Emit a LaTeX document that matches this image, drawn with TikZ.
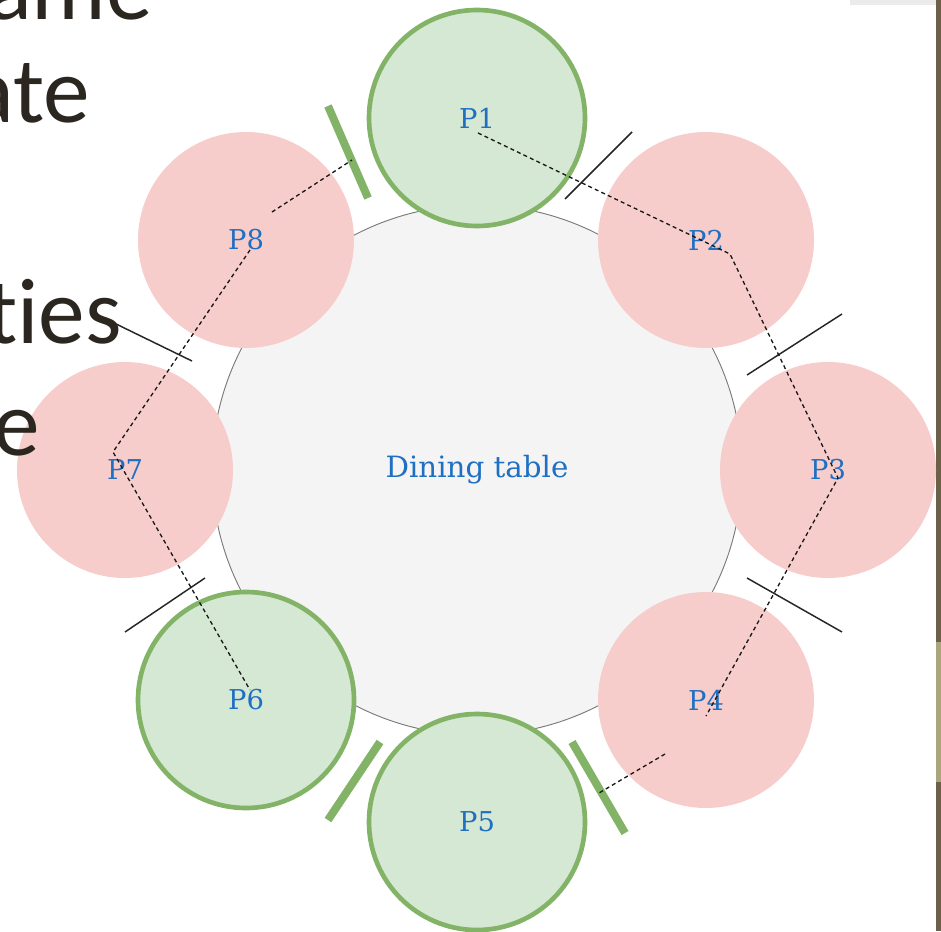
\documentclass[tikz,border=0pt]{standalone}
\usepackage{fontspec}
\setmainfont{DejaVu Serif}
\newfontfamily\slidefont[Ligatures={NoCommon}]{Carlito}
\definecolor{tablefill}{HTML}{F4F4F4}
\definecolor{tableline}{HTML}{7A7A7A}
\definecolor{busyfill}{HTML}{F7CDCB}
\definecolor{freefill}{HTML}{D5E8D4}
\definecolor{freeline}{HTML}{82B366}
\definecolor{labelblue}{HTML}{1F6FC2}
\definecolor{slidetext}{HTML}{2B2720}
\definecolor{slidebar}{HTML}{6B6048}
\definecolor{slidebarlight}{HTML}{AAA57C}
\definecolor{slidestrip}{HTML}{EBEBEB}
\begin{document}
\begin{tikzpicture}[x=0.75pt,y=-0.75pt,
  seat/.style={circle, minimum size=162pt, inner sep=0pt, text=labelblue,
    font=\fontsize{20.5}{24}\selectfont},
  busy/.style={seat, fill=busyfill},
  free/.style={seat, fill=freefill, draw=freeline, line width=3.5pt},
  tablebox/.style={circle, minimum size=397.5pt, inner sep=0pt, fill=tablefill,
    draw=tableline, line width=0.7pt, text=labelblue, font=\fontsize{22}{26}\selectfont},
  thinstick/.style={draw=black!85, line width=1.1pt},
  thickstick/.style={draw=freeline, line width=6pt},
  reach/.style={draw=black!90, line width=1pt, dash pattern=on 3pt off 2.4pt},
  slideline/.style={anchor=base east, text=slidetext, inner sep=0pt,
    font=\slidefont\fontsize{70}{82}\selectfont}]
\clip (0,0) rectangle (941,931);
\fill[white] (0,0) rectangle (941,931);

% slide frame at the right edge
\fill[slidestrip] (850,0) rectangle (936,5);
\fill[slidebar] (936,0) rectangle (941,931);
\fill[slidebarlight] (936,642) rectangle (941,782);

% table and seats
\node[tablebox] (table) at (477,470) {Dining table};
\node[free] (p1) at (477,118) {P1};
\node[busy] (p2) at (706,240) {P2};
\node[busy] (p3) at (828,470) {P3};
\node[busy] (p4) at (706,700) {P4};
\node[free] (p5) at (477,822) {P5};
\node[free] (p6) at (246,700) {P6};
\node[busy] (p7) at (125,470) {P7};
\node[busy] (p8) at (246,240) {P8};

% chopsticks between neighbouring seats
\coordinate (c12a) at (565,199); \coordinate (c12b) at (632,132);
\coordinate (c23a) at (747,375); \coordinate (c23b) at (842,314);
\coordinate (c34a) at (747,578); \coordinate (c34b) at (842,632);
\coordinate (c45a) at (572,742); \coordinate (c45b) at (625,833);
\coordinate (c56a) at (380,742); \coordinate (c56b) at (328,820);
\coordinate (c67a) at (205,578); \coordinate (c67b) at (125,632);
\coordinate (c78a) at (112,322); \coordinate (c78b) at (192,361);
\coordinate (c81a) at (328,106); \coordinate (c81b) at (368,198);
\draw[thinstick] (c12a) -- (c12b);
\draw[thinstick] (c23a) -- (c23b);
\draw[thinstick] (c34a) -- (c34b);
\draw[thickstick] (c45a) -- (c45b);
\draw[thickstick] (c56a) -- (c56b);
\draw[thinstick] (c67a) -- (c67b);
\draw[thinstick] (c78a) -- (c78b);
\draw[thickstick] (c81a) -- (c81b);

% waiting chains
\coordinate (r1) at (478,133);
\coordinate (r2) at (730,254);
\coordinate (r3) at (838,478);
\coordinate (r4) at (706,716);
\draw[reach] (r1) -- (r2) -- (r3) -- (r4);
\coordinate (l1) at (250,250);
\coordinate (l2) at (113,452);
\coordinate (l3) at (250,690);
\draw[reach] (l1) -- (l2) -- (l3);
\coordinate (h4) at (665,754);
\coordinate (h45) at (599,793);
\draw[reach] (h4) -- (h45);
\coordinate (h8) at (272,212);
\coordinate (h81) at (352,160);
\draw[reach] (h8) -- (h81);

% slide text running in from the left
\node[slideline] (s1) at (153,20) {same};
\node[slideline] (s2) at (90,122) {ate};
\node[slideline] (s3) at (122,343) {t\kern0pt ies};
\node[slideline] (s4) at (40,455) {e};
\end{tikzpicture}
\end{document}
